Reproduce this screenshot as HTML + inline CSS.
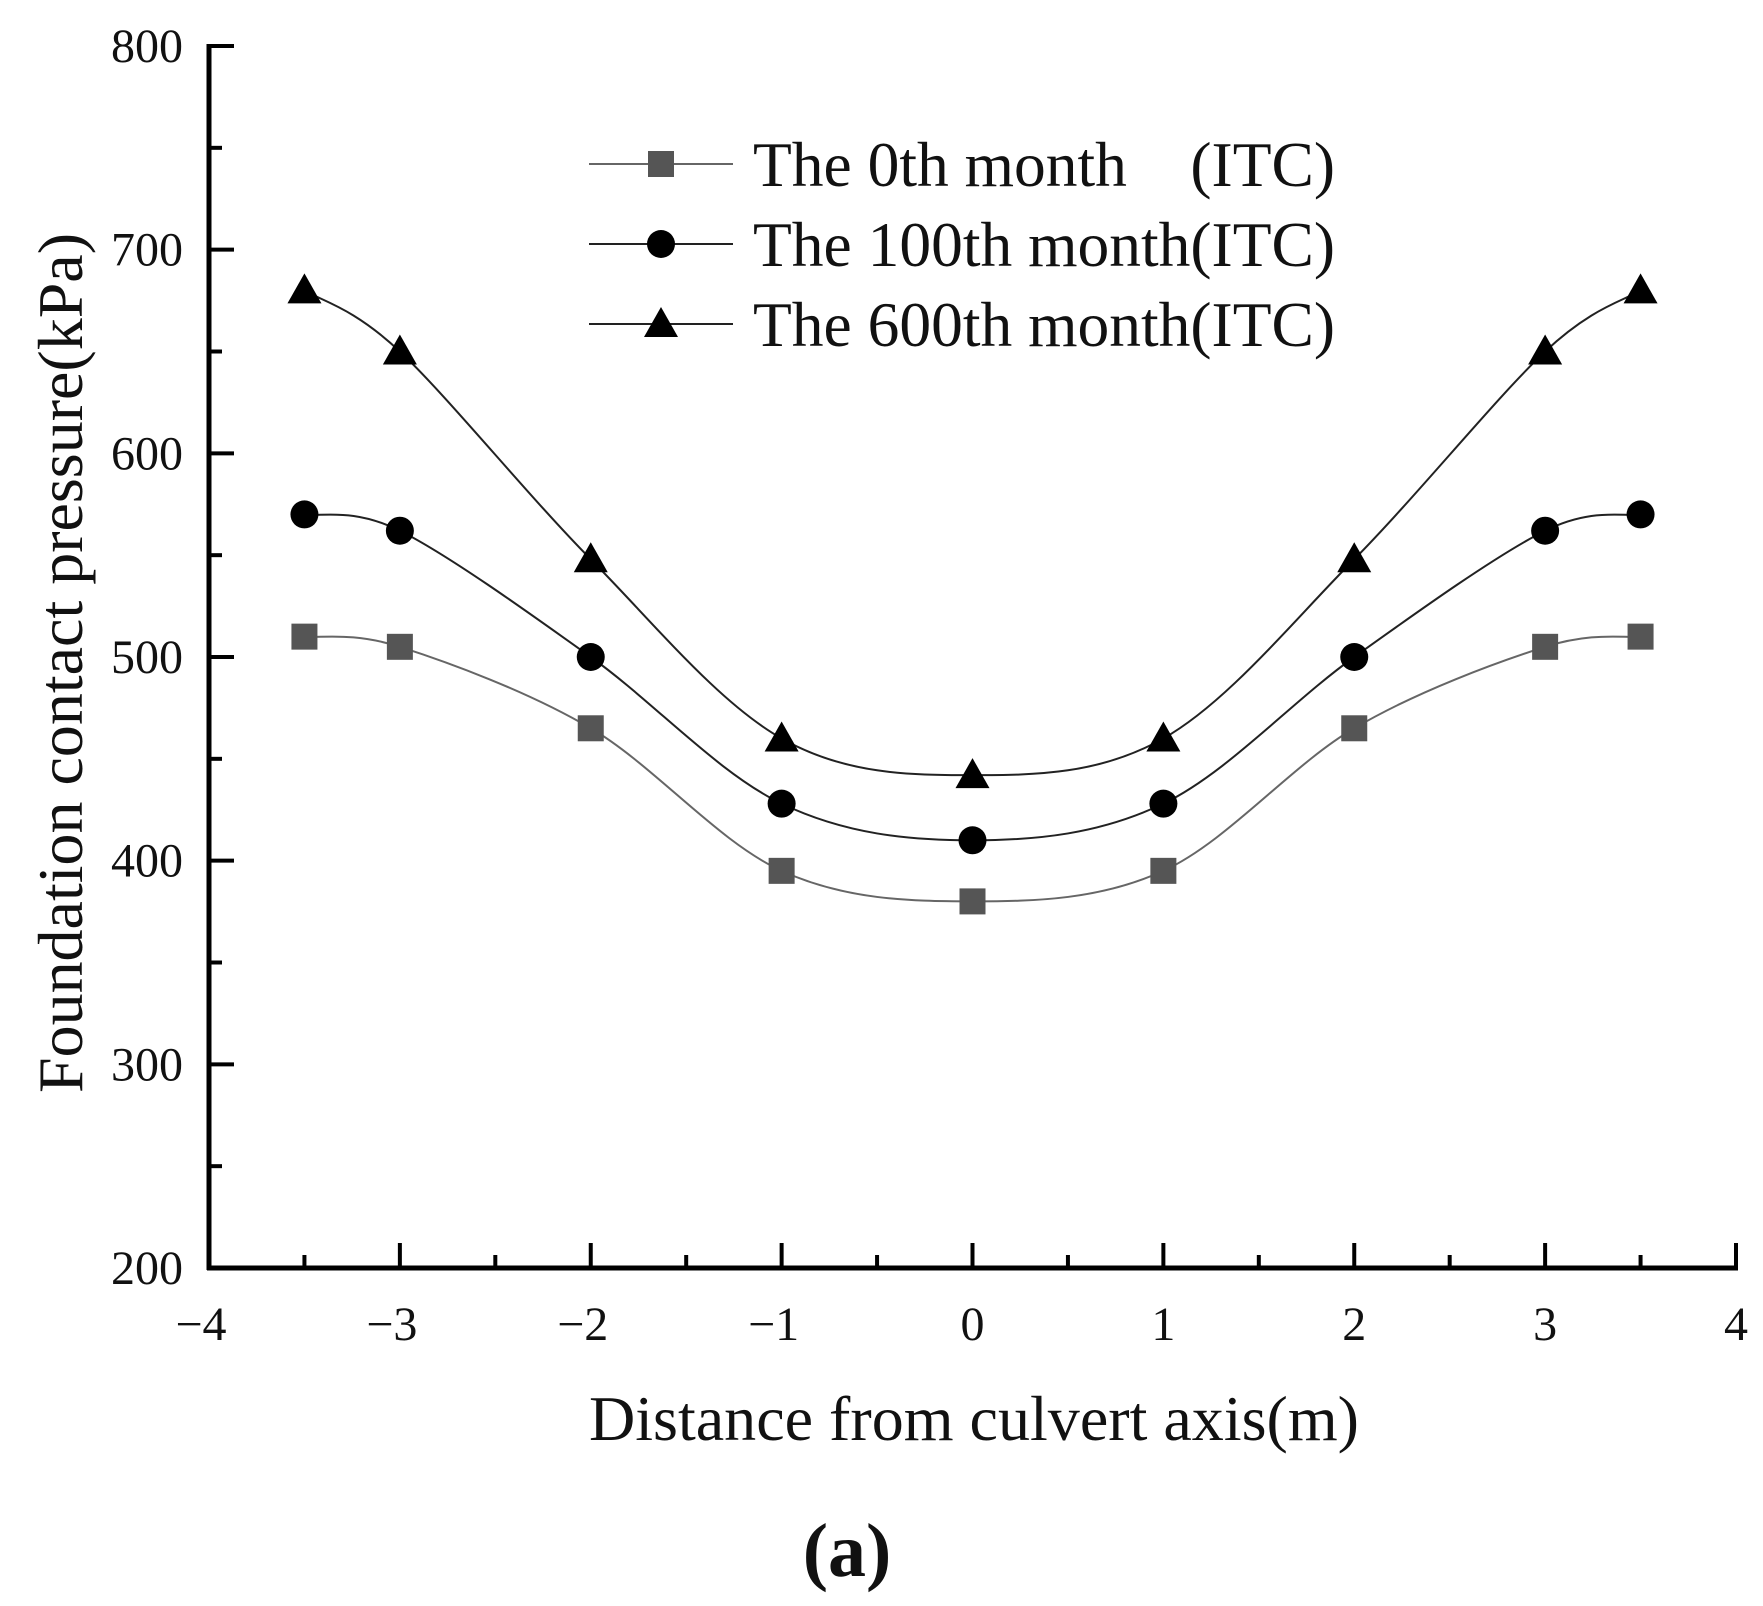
<!DOCTYPE html>
<html><head><meta charset="utf-8"><style>
html,body{margin:0;padding:0;background:#fff;}
svg text{font-family:"Liberation Serif",serif;fill:#111;}
</style></head><body>
<svg id="chart" width="1763" height="1601" viewBox="0 0 1763 1601">
<g id="axes"></g><g id="series"></g><g id="legend"></g>
<text x="974" y="1440" font-size="64" text-anchor="middle" textLength="770" lengthAdjust="spacingAndGlyphs">Distance from culvert axis(m)</text>
<text transform="translate(82,663) rotate(-90)" font-size="64" text-anchor="middle" textLength="860" lengthAdjust="spacingAndGlyphs">Foundation contact pressure(kPa)</text>
<text x="847" y="1576" font-size="76" font-weight="bold" text-anchor="middle">(a)</text>
</svg>
<script>
const xValues=[-3.5,-3,-2,-1,0,1,2,3,3.5];
const s0=[510,505,465,395,380,395,465,505,510];
const s100=[570,562,500,428,410,428,500,562,570];
const s600=[680,650,548,460,442,460,548,650,680];
const xTicks=[-4,-3,-2,-1,0,1,2,3,4];
const yTicks=[200,300,400,500,600,700,800];
const legendLabels=["The 0th month    (ITC)","The 100th month(ITC)","The 600th month(ITC)"];
const NS="http://www.w3.org/2000/svg";
const X0=209,X1=1736,Y0=1268,Y1=46;
const sx=v=>X0+(v+4)/8*(X1-X0);
const sy=v=>Y0-(v-200)/600*(Y0-Y1);
function mk(t,a,p){const e=document.createElementNS(NS,t);for(const k in a)e.setAttribute(k,a[k]);(p||document.getElementById('axes')).appendChild(e);return e;}
let e=mk('line',{x1:X0,y1:Y1-2,x2:X0,y2:Y0+2,stroke:'#000','stroke-width':5});


e=mk('line',{x1:X0-2,y1:Y0,x2:X1+2,y2:Y0,stroke:'#000','stroke-width':5});


yTicks.forEach((v,i)=>{
  mk('line',{x1:X0,y1:sy(v),x2:X0+25,y2:sy(v),stroke:'#000','stroke-width':4});
  if(i<yTicks.length-1)mk('line',{x1:X0,y1:sy(v+50),x2:X0+13,y2:sy(v+50),stroke:'#000','stroke-width':4});
  const t=mk('text',{x:X0-26,y:sy(v)+16,'font-size':48,'text-anchor':'end'});t.textContent=v;
  
  
});
xTicks.forEach((v,i)=>{
  mk('line',{x1:sx(v),y1:Y0,x2:sx(v),y2:Y0-25,stroke:'#000','stroke-width':4});
  if(i<xTicks.length-1)mk('line',{x1:sx(v+0.5),y1:Y0,x2:sx(v+0.5),y2:Y0-13,stroke:'#000','stroke-width':4});
  const t=mk('text',{x:sx(v)+(v<0?-8:0),y:1340,'font-size':48,'text-anchor':'middle'});t.textContent=(v<0?'\u2212':'')+Math.abs(v);
  
  
});
function spline(xs,ys){
  const p=xs.map((x,i)=>[sx(x),sy(ys[i])]);
  let d='M'+p[0][0]+','+p[0][1];
  for(let i=0;i<p.length-1;i++){
    const a=p[Math.max(0,i-1)],b=p[i],c=p[i+1],n=p[Math.min(p.length-1,i+2)];
    const c1=[b[0]+(c[0]-a[0])/6,b[1]+(c[1]-a[1])/6],c2=[c[0]-(n[0]-b[0])/6,c[1]-(n[1]-b[1])/6];
    d+=` C${c1[0]},${c1[1]} ${c2[0]},${c2[1]} ${c[0]},${c[1]}`;
  }
  return d;
}
function marker(type,x,y,col,g){
  if(type==='sq')return mk('rect',{x:x-13,y:y-13,width:26,height:26,fill:col},g);
  if(type==='ci')return mk('circle',{cx:x,cy:y,r:14,fill:col},g);
  return mk('polygon',{points:`${x},${y-17} ${x-17},${y+13} ${x+17},${y+13}`,fill:col},g);
}
const sg=document.getElementById('series');
const defs=[[s0,'sq','#555','#666','series-0th-month'],[s100,'ci','#000','#222','series-100th-month'],[s600,'tr','#000','#222','series-600th-month']];
defs.forEach(([ys,t,col,lc,name])=>{
  const g=mk('g',{},sg);
  
  
  mk('path',{d:spline(xValues,ys),fill:'none',stroke:lc,'stroke-width':2},g);
  xValues.forEach((x,i)=>{const m=marker(t,sx(x),sy(ys[i]),col,g);
    
    });
});
const lg=document.getElementById('legend');


defs.forEach(([ys,t,col,lc],i)=>{
  const y=164+i*80;
  const g=mk('g',{},lg);
  
  
  mk('line',{x1:589,y1:y,x2:733,y2:y,stroke:lc,'stroke-width':2},g);
  marker(t,661,y,col,g);
  const tx=mk('text',{x:753,y:y+22,'font-size':64,textLength:582,lengthAdjust:'spacingAndGlyphs'},g);tx.textContent=legendLabels[i];
  tx.setAttribute('xml:space','preserve');tx.style.whiteSpace='pre';
});
</script>
</body></html>
